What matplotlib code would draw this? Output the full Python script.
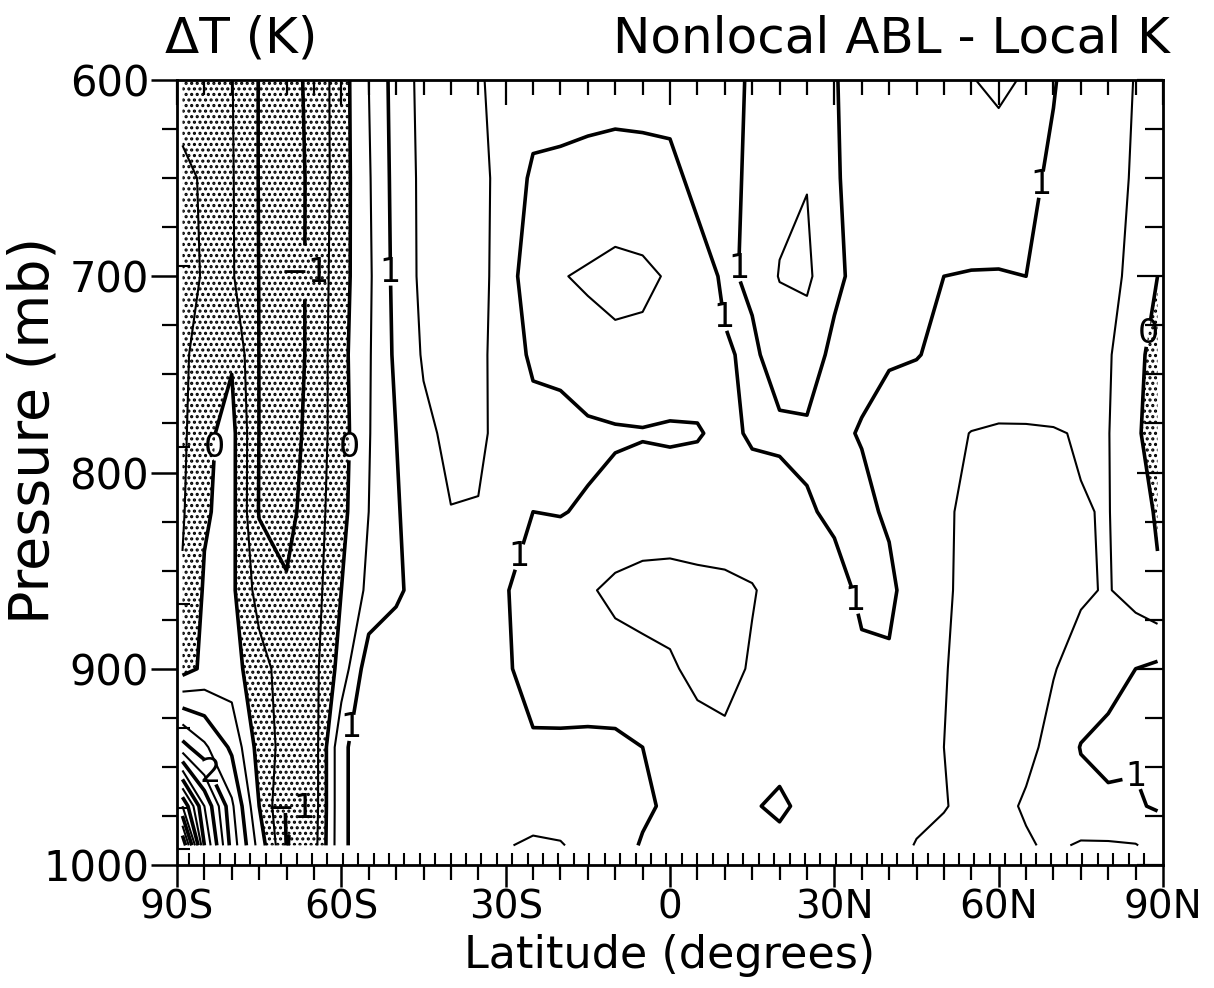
import matplotlib.pyplot as plt
import numpy as np

plt.rcParams["font.family"] = ["DejaVu Sans"]
plt.rcParams["hatch.color"] = "black"
plt.rcParams["hatch.linewidth"] = 1.5

# grid: latitude (deg, S<0) x pressure (mb)
lats = [-89, -85, -80, -75, -70, -65, -60, -55, -50, -45, -40, -35, -30,
        -25, -20, -15, -10, -5, 0, 5, 10, 15, 20, 25, 30, 35, 40, 45, 50,
        55, 60, 65, 70, 75, 80, 85, 89]
levels_mb = [600, 650, 700, 740, 780, 820, 860, 900, 940, 970, 990]

t600 = [-0.3, -0.4, -0.48, -1.02, -1.2, -0.86, -0.22, 0.5,
        1.21, 1.65, 1.7, 1.53, 1.4, 1.3, 1.25, 1.2,
        1.15, 1.15, 1.15, 1.12, 1.08, 0.97, 0.8, 0.8,
        0.97, 1.2, 1.3, 1.35, 1.4, 1.48, 1.6, 1.45,
        1.02, 0.85, 0.7, 0.48, 0.25]
t650 = [-0.6, -0.45, -0.46, -1.02, -1.25, -0.88, -0.22, 0.45,
        1.18, 1.62, 1.75, 1.6, 1.37, 0.9, 0.88, 0.85,
        0.85, 0.87, 0.9, 1.1, 1.08, 0.95, 0.65, 0.52,
        0.95, 1.18, 1.3, 1.35, 1.35, 1.3, 1.25, 1.07,
        0.95, 0.8, 0.65, 0.45, 0.2]
t700 = [-0.7, -0.45, -0.45, -1.01, -1.3, -0.85, -0.2, 0.42,
        1.15, 1.62, 1.75, 1.6, 1.35, 0.55, 0.52, 0.45,
        0.35, 0.4, 0.55, 0.85, 1.05, 0.95, 0.47, 0.4,
        0.9, 1.15, 1.15, 1.1, 1.0, 0.98, 0.98, 1.0,
        0.9, 0.75, 0.6, 0.4, 0.0]
t740 = [-0.65, -0.15, -0.05, -1.01, -1.3, -0.85, -0.15, 0.45,
        1.1, 1.55, 1.72, 1.6, 1.3, 0.9, 0.75, 0.65,
        0.62, 0.62, 0.68, 0.8, 0.97, 1.05, 0.88, 0.8,
        1.1, 1.08, 1.05, 1.02, 0.9, 0.85, 0.85, 0.87,
        0.85, 0.75, 0.55, 0.15, -0.2]
t780 = [-0.6, -0.1, 0.15, -1.01, -1.25, -0.8, -0.2, 0.47,
        1.0, 1.4, 1.6, 1.58, 1.35, 1.2, 1.3, 1.1,
        1.05, 1.03, 1.06, 1.03, 0.9, 1.05, 1.05, 1.06,
        1.06, 0.98, 0.8, 0.7, 0.6, 0.49, 0.45, 0.45,
        0.47, 0.53, 0.52, 0.05, -0.15]
t820 = [-0.55, -0.05, 0.15, -1.03, -1.15, -0.75, -0.15, 0.5,
        0.95, 1.3, 1.49, 1.48, 1.25, 1.0, 1.02, 0.95,
        0.85, 0.75, 0.72, 0.75, 0.78, 0.8, 0.88, 0.97,
        1.05, 1.08, 0.95, 0.65, 0.55, 0.42, 0.38, 0.38,
        0.42, 0.48, 0.52, 0.2, -0.05]
t860 = [-0.45, 0.05, 0.1, -0.7, -0.95, -0.72, 0.0, 0.62,
        0.92, 1.2, 1.3, 1.3, 1.02, 0.85, 0.7, 0.55,
        0.4, 0.35, 0.35, 0.38, 0.4, 0.47, 0.65, 0.8,
        0.9, 1.05, 1.08, 0.8, 0.55, 0.4, 0.35, 0.35,
        0.4, 0.45, 0.53, 0.3, 0.05]
t900 = [-0.2, 0.1, 0.2, -0.3, -0.75, -0.65, 0.2, 1.3,
        1.3, 1.3, 1.3, 1.25, 1.05, 0.85, 0.75, 0.72,
        0.68, 0.62, 0.55, 0.4, 0.35, 0.55, 0.7, 0.78,
        0.82, 0.95, 0.95, 0.65, 0.52, 0.38, 0.3, 0.35,
        0.48, 0.65, 0.8, 1.0, 1.1]
t940 = [2.2, 1.6, 0.9, -0.2, -0.7, -0.75, 0.9, 1.3,
        1.3, 1.3, 1.3, 1.3, 1.25, 1.05, 1.08, 1.1,
        1.1, 1.0, 0.8, 0.65, 0.6, 0.75, 0.8, 0.8,
        0.78, 0.75, 0.7, 0.6, 0.5, 0.35, 0.3, 0.4,
        0.62, 1.02, 1.15, 1.05, 1.2]
t970 = [5.5, 3.5, 1.6, 0.0, -1.05, -0.75, 0.9, 1.3,
        1.35, 1.4, 1.4, 1.4, 1.35, 1.35, 1.35, 1.3,
        1.2, 1.1, 0.9, 0.8, 0.8, 0.95, 1.1, 0.85,
        0.75, 0.7, 0.65, 0.6, 0.52, 0.4, 0.38, 0.55,
        0.7, 0.85, 0.9, 0.95, 1.05]
t990 = [7.5, 4.0, 1.8, 0.3, -1.02, -0.7, 0.9, 1.3,
        1.35, 1.4, 1.42, 1.45, 1.48, 1.55, 1.52, 1.4,
        1.25, 0.95, 0.8, 0.75, 0.75, 0.8, 0.85, 0.8,
        0.75, 0.7, 0.65, 0.48, 0.4, 0.35, 0.35, 0.45,
        0.58, 0.45, 0.45, 0.48, 0.65]

dT = np.array([t600, t650, t700, t740, t780, t820, t860, t900, t940,
               t970, t990])

# where the contour labels sit (lat, mb)
label_pos = [(-67.5, 698), (-84.0, 787), (-59.3, 787), (-51.1, 698),
             (-28.8, 842), (12.4, 696), (10.4, 721), (34.3, 865),
             (67.0, 653), (86.7, 729), (-58.4, 930), (-82.5, 951),
             (-69.4, 971), (87.3, 952)]

xtick_vals = [-90, -60, -30, 0, 30, 60, 90]
xtick_text = ["90S", "60S", "30S", "0", "30N", "60N", "90N"]
model_lats = np.arange(-87.86, 88, 2.8125)
model_levels = [695, 787, 867, 930, 971, 992]

fig = plt.figure(figsize=(12.14, 9.88), dpi=100)
ax = fig.add_axes([0.1458, 0.1245, 0.8122, 0.7945])

ax.contourf(lats, levels_mb, dT, levels=[-10, 0], colors="none",
            hatches=["..."])
half = np.arange(-1.5, 8.0, 1.0)
full = np.arange(-1.0, 8.5, 1.0)
ax.contour(lats, levels_mb, dT, levels=half, colors="k", linewidths=1.5,
           linestyles="solid")
cs = ax.contour(lats, levels_mb, dT, levels=full, colors="k",
                linewidths=2.6, linestyles="solid")
texts = ax.clabel(cs, levels=[-1, 0, 1, 2], manual=label_pos, fontsize=24,
                  inline=True, inline_spacing=3,
                  fmt=lambda v: ("%d" % round(v)).replace("-", "\u2212"))
for t in texts:
    t.set_rotation(0)

ax.set_xlim(-90, 90)
ax.set_ylim(1000, 600)
for s in ax.spines.values():
    s.set_linewidth(2)

ax.set_xticks(xtick_vals, xtick_text)
ax.set_xticks(range(-90, 91, 5), minor=True)
ax.set_yticks(range(600, 1001, 100))
ax.set_yticks(range(600, 1001, 25), minor=True)
ax.tick_params(axis="y", which="major", direction="out", length=19,
               width=1.8, labelsize=30, pad=1)
ax.tick_params(axis="x", which="major", direction="out", length=16,
               width=1.8, labelsize=28, pad=1)
ax.tick_params(which="minor", direction="out", length=11, width=1.6)

top = ax.secondary_xaxis("top")
top.set_xticks(range(-90, 91, 30))
top.set_xticks(range(-90, 91, 5), minor=True)
top.set_xticklabels([])
top.tick_params(which="major", direction="in", length=18, width=1.6)
top.tick_params(which="minor", direction="in", length=11, width=1.6)

bot = ax.secondary_xaxis("bottom")
bot.set_xticks(model_lats)
bot.set_xticklabels([])
bot.tick_params(direction="in", length=9, width=1.5)

right = ax.secondary_yaxis("right")
right.set_yticks(range(600, 1001, 100))
right.set_yticks(range(600, 1001, 25), minor=True)
right.set_yticklabels([])
right.tick_params(which="major", direction="in", length=19, width=1.6)
right.tick_params(which="minor", direction="in", length=13, width=1.6)

left = ax.secondary_yaxis("left")
left.set_yticks(model_levels)
left.set_yticklabels([])
left.tick_params(direction="in", length=9, width=1.5)

ax.set_xlabel("Latitude (degrees)", fontsize=32)
ax.xaxis.set_label_coords(0.5, -0.0885)
ax.set_ylabel("Pressure (mb)", fontsize=40)
ax.yaxis.set_label_coords(-0.118, 0.554)
fig.text(0.136, 0.961, "\u0394T (K)", fontsize=36, va="center")
fig.text(0.964, 0.961, "Nonlocal ABL - Local K", fontsize=36,
         va="center", ha="right")

fig.savefig("out.png", dpi=100)
